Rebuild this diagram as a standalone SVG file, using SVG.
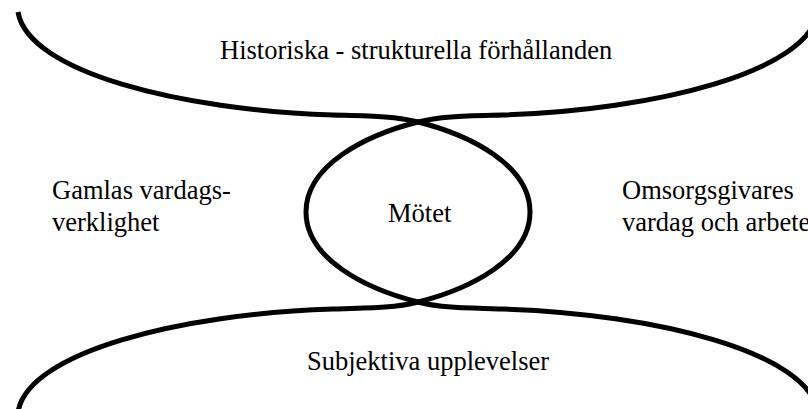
<svg xmlns="http://www.w3.org/2000/svg" width="808" height="409" viewBox="0 0 808 409">
<style>
.c{fill:none;stroke:#000;stroke-width:5;stroke-linecap:butt;stroke-linejoin:round}
.t{font-size:26.5px;fill:#000}
</style>
<rect width="808" height="409" fill="#fff"/>
<g id="curves">
<path id="pathA" class="c" d="M18,12 C28,72 180,110 333,115 C370,116 395,116 418,122 C470,135 530,165 530,212 C530,259 470,289 418,302 C395,308 370,308 333,309 C180,314 28,352 18,412"/>
<path id="pathB" class="c" d="M818,12 C808,72 656,110 503,115 C466,116 441,116 418,122 C366,135 306,165 306,212 C306,259 366,289 418,302 C441,308 466,308 503,309 C656,314 808,352 818,412"/>
</g>
<g font-family="Liberation Serif, Times New Roman, serif">
<g id="historiska"><text class="t" x="220" y="59">Historiska - strukturella förhållanden</text></g>
<g id="gamlas"><text class="t" x="52" y="199">Gamlas vardags-</text><text class="t" x="52" y="231">verklighet</text></g>
<g id="motet"><text class="t" x="388" y="222">Mötet</text></g>
<g id="omsorg"><text class="t" x="622" y="199">Omsorgsgivares</text><text class="t" x="622" y="231">vardag och arbete</text></g>
<g id="subjektiva"><text class="t" x="307" y="370">Subjektiva upplevelser</text></g>
</g>
</svg>
